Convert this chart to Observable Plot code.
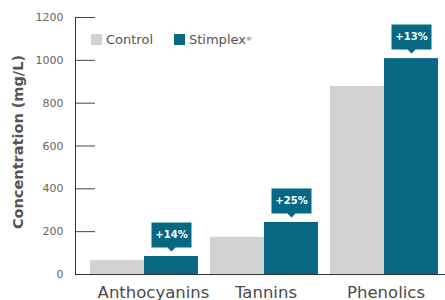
<!DOCTYPE html>
<html><head><meta charset="utf-8">
<script src="https://cdn.jsdelivr.net/npm/d3@7"></script>
<script src="https://cdn.jsdelivr.net/npm/@observablehq/plot@0.6"></script>
<style>
body{margin:0;background:#fff;}
#wrap{position:relative;width:445px;height:300px;font-family:"DejaVu Sans",sans-serif;}
#wrap svg{position:absolute;left:0;top:0;}
#legend{position:absolute;left:91px;top:33px;height:13px;display:flex;align-items:center;font-size:13px;color:#555;line-height:13px;}
#legend .sw{display:inline-block;width:11px;height:11px;margin-right:4px;}
#legend sup{font-size:6px;vertical-align:top;position:relative;top:-1px;}
</style></head><body><div id="wrap"></div>
<script>
const categories = ["Anthocyanins", "Tannins", "Phenolics"];
const control = [65, 174, 878];
const stimplex = [84, 243, 1008];
const gains = ["+14%", "+25%", "+13%"];
const yTicks = [0, 200, 400, 600, 800, 1000, 1200];
const seriesNames = ["Control", "Stimplex"];
const seriesColors = ["#d1d2d4", "#076883"];

const data = categories.map((c, i) => ({category: c, control: control[i], stimplex: stimplex[i], gain: gains[i]}));

const W = 445, H = 300, ML = 75, MR = 0, MT = 17, MB = 26;
const half = 54;

const callout = {
  draw(ctx) {
    ctx.moveTo(0, 0); ctx.lineTo(-4, -4); ctx.lineTo(-20, -4); ctx.lineTo(-20, -29);
    ctx.lineTo(20, -29); ctx.lineTo(20, -4); ctx.lineTo(4, -4); ctx.closePath();
  }
};

const xLabelStyle = {tickSize: 0, tickPadding: 11.5, fontSize: 16.5, color: "#4a4a4a", label: null};

const chart = Plot.plot({
  width: W, height: H, marginLeft: ML, marginRight: MR, marginTop: MT, marginBottom: MB,
  style: {fontFamily: "DejaVu Sans, sans-serif", background: "transparent"},
  x: {domain: categories, range: [75, 453], paddingInner: 0.1, paddingOuter: 0.125, label: null},
  y: {domain: [0, 1200], label: null},
  marks: [
    Plot.barY(data, {x: "category", y: "control", fill: seriesColors[0], insetRight: half}),
    Plot.barY(data, {x: "category", y: "stimplex", fill: seriesColors[1], insetLeft: half}),
    Plot.tickY(yTicks.slice(1), {y: d => d, stroke: "#444", insetRight: W - ML - MR - 20}),
    Plot.ruleY([0], {stroke: "#333"}),
    Plot.frame({anchor: "left", stroke: "#333"}),
    Plot.axisY({ticks: yTicks, tickFormat: d => String(d), tickSize: 0, tickPadding: 12, fontSize: 11, color: "#666", label: null}),
    Plot.axisX({...xLabelStyle, ticks: categories.slice(0, 1), dx: 9}),
    Plot.axisX({...xLabelStyle, ticks: categories.slice(1), dx: 1.5}),
    Plot.text(["Concentration (mg/L)"], {frameAnchor: "left", textAnchor: "middle", rotate: -90, dx: -57, dy: -4, fontSize: 14.5, fontWeight: "bold", fill: "#555"}),
    Plot.dot(data, {x: "category", y: "stimplex", dx: 27, dy: -5, symbol: callout, fill: seriesColors[1], stroke: null}),
    Plot.text(data, {x: "category", y: "stimplex", text: "gain", dx: 27, dy: -21.5, fill: "white", fontWeight: "bold", fontSize: 10})
  ]
});

const wrap = document.getElementById("wrap");
wrap.appendChild(chart);
const legend = document.createElement("div");
legend.id = "legend";
legend.innerHTML =
  `<span class="sw" style="background:${seriesColors[0]}"></span><span>${seriesNames[0]}</span>` +
  `<span class="sw" style="background:${seriesColors[1]};margin-left:21px"></span><span>${seriesNames[1]}<sup>®</sup></span>`;
wrap.appendChild(legend);
</script></body></html>
